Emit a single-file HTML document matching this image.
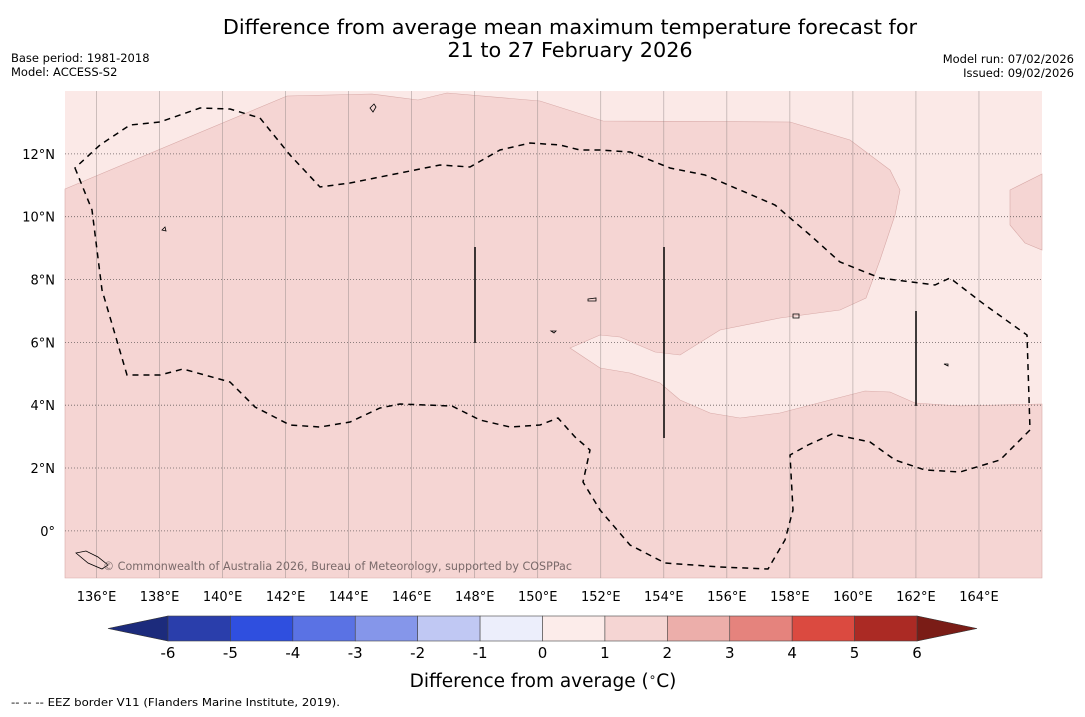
<!DOCTYPE html>
<html><head><meta charset="utf-8"><style>
html,body{margin:0;padding:0;background:#fff;}
body{width:1085px;height:713px;overflow:hidden;font-family:"DejaVu Sans","Liberation Sans",sans-serif;}
svg text{font-family:"DejaVu Sans","Liberation Sans",sans-serif;}
</style></head><body>
<svg id="chart" width="1085" height="713" viewBox="0 0 1085 713" xmlns="http://www.w3.org/2000/svg">
<text x="570" y="34" font-size="20.8" text-anchor="middle">Difference from average mean maximum temperature forecast for</text>
<text x="570" y="57" font-size="20.8" text-anchor="middle">21 to 27 February 2026</text>
<text x="11" y="62" font-size="11.5">Base period: 1981-2018</text>
<text x="11" y="76" font-size="11.5">Model: ACCESS-S2</text>
<text x="1074" y="63" font-size="11.5" text-anchor="end">Model run: 07/02/2026</text>
<text x="1074" y="77" font-size="11.5" text-anchor="end">Issued: 09/02/2026</text>
<g id="map">
<rect x="65" y="91" width="977" height="487" fill="#fbe9e7"/>
<path fill="#f5d5d3" stroke="#d8aaa8" stroke-width="0.6" d="M65,189 L287,96 L372,94 L418,100 L447,93 L540,101 L603,121 L790,122 L850,140 L890,170 L900,190 L895,215 L880,260 L866,298 L840,310 L780,318 L720,330 L680,355 L655,352 L620,337 L600,335 L570,348 L600,368 L630,373 L660,383 L680,400 L710,413 L740,418 L780,413 L830,400 L865,391 L890,392 L915,403 L960,406 L1000,405 L1042,404 L1042,578 L65,578 Z"/>
<path fill="#f5d5d3" stroke="#d8aaa8" stroke-width="0.6" d="M1010,190 L1042,174 L1042,250 L1025,243 L1010,225 Z"/>
<g id="grid"></g>
<line x1="475" y1="247" x2="475" y2="343" stroke="#000" stroke-width="1.5"/>
<line x1="664" y1="247" x2="664" y2="438" stroke="#000" stroke-width="1.5"/>
<line x1="916" y1="311" x2="916" y2="406" stroke="#000" stroke-width="1.5"/>
<path fill="none" stroke="#000" stroke-width="1.5" stroke-dasharray="6,5" d="M75,168 L92,210 L97,250 L102,290 L127,375 L160,375 L183,369 L230,382 L255,407 L290,425 L320,427 L350,422 L380,408 L400,404 L452,406 L480,420 L510,427 L540,425 L558,418 L575,437 L590,450 L583,482 L600,510 L630,545 L665,563 L720,567 L768,569 L785,540 L793,510 L790,455 L808,445 L832,434 L870,442 L895,460 L925,470 L960,472 L1000,460 L1030,430 L1027,335 L985,305 L950,278 L935,285 L880,278 L840,262 L810,235 L775,205 L740,190 L705,175 L670,168 L630,152 L600,150 L580,150 L560,145 L530,143 L500,150 L470,167 L440,165 L400,173 L350,183 L320,187 L290,155 L260,118 L230,109 L200,108 L160,122 L130,125 L100,145 Z"/>
<g fill="none" stroke="#000" stroke-width="0.8">
<path d="M370,108 l4,-4 l2,3 l-3,5 z"/><path d="M162,230 l3,-3 l1,4 z"/><path d="M588,299 l8,-1 l0,3 l-8,0 z"/><path d="M793,314 l6,0 l0,4 l-6,0 z"/><path d="M76,553 l10,-2 l12,6 l10,8 l-6,4 l-14,-6 z"/><path d="M944,364 l4,0 l0,2 z"/><path d="M551,331 l5,0 l-2,2 z"/>
</g>
<text x="103" y="570" font-size="11.8" fill="#7a6a6a" textLength="469" lengthAdjust="spacingAndGlyphs">© Commonwealth of Australia 2026, Bureau of Meteorology, supported by COSPPac</text>
</g>
<g id="axes"></g>
<g id="colorbar"></g>
<text x="543" y="687" font-size="18.5" text-anchor="middle">Difference from average (<tspan font-size="12" dy="-6">∘</tspan><tspan dy="6">C)</tspan></text>
<text x="11" y="706" font-size="11" textLength="329" lengthAdjust="spacingAndGlyphs">--  --  -- EEZ border V11 (Flanders Marine Institute, 2019).</text>
</svg>
<script>
const lonTicks = [136,138,140,142,144,146,148,150,152,154,156,158,160,162,164];
const latTicks = [0,2,4,6,8,10,12];
const cbLevels = [-6,-5,-4,-3,-2,-1,0,1,2,3,4,5,6];
const cbColors = ["#2a3eab","#2f4fdf","#5a72e4","#8596ea","#c0c8f3","#eceefb","#fcecea","#f5d5d3","#ecaeaa","#e5837d","#db4a40","#ab2a24"];
const cbUnder = "#1c2b7c";
const cbOver = "#7a1c16";
const NS="http://www.w3.org/2000/svg";
const X0=65,X1=1042,Y0=91,Y1=578,LON0=135,LON1=166,LAT0=-1.5,LAT1=14;
const xLon=v=>X0+(v-LON0)/(LON1-LON0)*(X1-X0);
const yLat=v=>Y1-(v-LAT0)/(LAT1-LAT0)*(Y1-Y0);
function mk(tag,attrs,parent){const e=document.createElementNS(NS,tag);for(const k in attrs)e.setAttribute(k,attrs[k]);parent.appendChild(e);return e;}
const grid=document.getElementById('grid'),axes=document.getElementById('axes');
lonTicks.forEach(v=>{
 const l=mk('line',{x1:xLon(v),x2:xLon(v),y1:Y0,y2:Y1,stroke:'#8a8080','stroke-width':0.6,'stroke-opacity':0.7},grid);
 
 
 const t=mk('text',{x:xLon(v),y:601,'font-size':13,'text-anchor':'middle'},axes);
 t.textContent=v+'°E';
 
 
});
latTicks.forEach(v=>{
 const l=mk('line',{x1:X0,x2:X1,y1:yLat(v),y2:yLat(v),stroke:'#6a6060','stroke-width':0.8,'stroke-dasharray':'1,2'},grid);
 
 
 const t=mk('text',{x:55,y:yLat(v)+5,'font-size':13,'text-anchor':'end'},axes);
 t.textContent=v===0?'0°':v+'°N';
 
 
});
const cb=document.getElementById('colorbar');
const CX0=168,CX1=917,CY0=616,CY1=641;
const xc=v=>CX0+(v-cbLevels[0])/(cbLevels[cbLevels.length-1]-cbLevels[0])*(CX1-CX0);
const under=mk('polygon',{points:`${CX0},${CY0} ${CX0},${CY1} 108,${(CY0+CY1)/2}`,fill:cbUnder,stroke:'#333','stroke-width':0.6},cb);


const over=mk('polygon',{points:`${CX1},${CY0} ${CX1},${CY1} 977,${(CY0+CY1)/2}`,fill:cbOver,stroke:'#333','stroke-width':0.6},cb);


cbColors.forEach((c,i)=>{
 const r=mk('rect',{x:xc(cbLevels[i]),y:CY0,width:xc(cbLevels[i+1])-xc(cbLevels[i]),height:CY1-CY0,fill:c,stroke:'#444','stroke-width':0.6},cb);
 
 
});
cbLevels.forEach(v=>{
 const t=mk('text',{x:xc(v),y:658,'font-size':15,'text-anchor':'middle'},cb);
 t.textContent=String(v);
 
 
});
</script>
</body></html>
